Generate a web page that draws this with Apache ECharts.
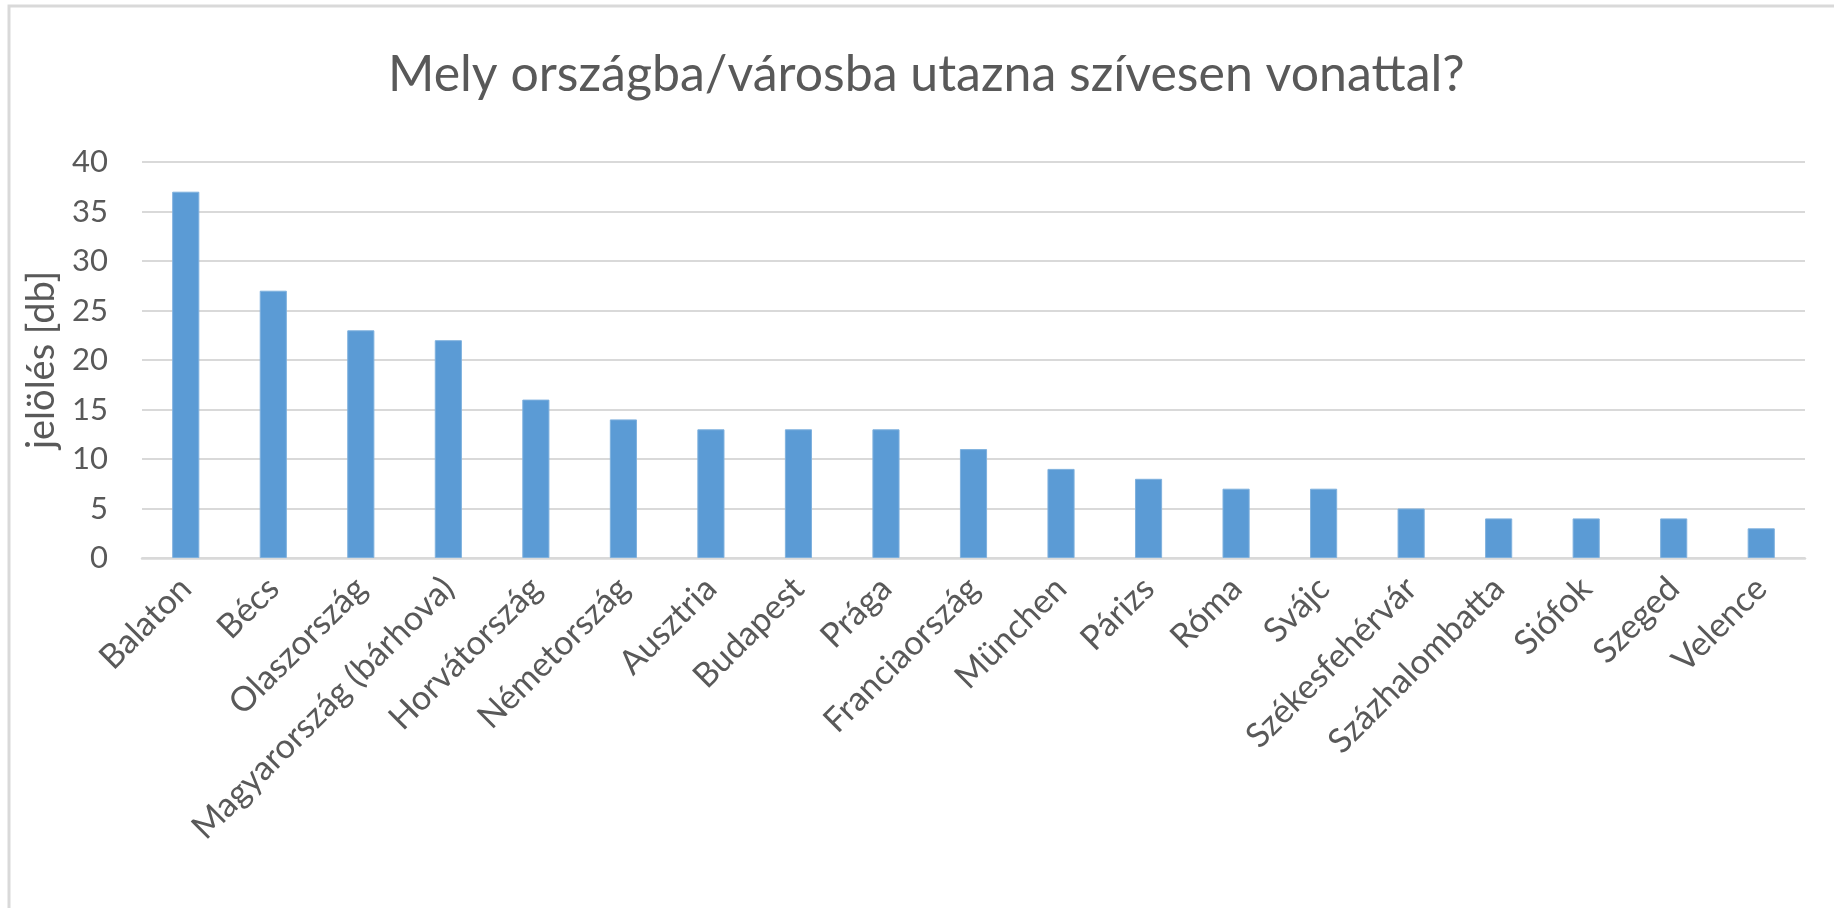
<!DOCTYPE html>
<html lang="hu">
  <head>
    <meta charset="UTF-8" />
    <title>Mely országba/városba utazna szívesen vonattal?</title>
    <style>
      html, body { margin: 0; padding: 0; background: #fff; }
      #main { width: 1834px; height: 908px; }
    </style>
  </head>
  <body>
    <div id="main"></div>

    <script src="https://cdn.jsdelivr.net/npm/echarts@6/dist/echarts.min.js"></script>
    <script>
      // adatok
      const categories = ['Balaton', 'Bécs', 'Olaszország', 'Magyarország (bárhova)', 'Horvátország',
        'Németország', 'Ausztria', 'Budapest', 'Prága', 'Franciaország', 'München', 'Párizs',
        'Róma', 'Svájc', 'Székesfehérvár', 'Százhalombatta', 'Siófok', 'Szeged', 'Velence']
      const votes = [37, 27, 23, 22, 16, 14, 13, 13, 13, 11, 9, 8, 7, 7, 5, 4, 4, 4, 3]
      const yTicks = { min: 0, max: 40, interval: 5 }

      const textColor = '#595959'
      const lineColor = '#d9d9d9'
      const font = 'Lato, "Open Sans", sans-serif'

      let myChart = echarts.init(document.getElementById('main'))
      let option = {
        backgroundColor: '#fff',
        textStyle: { fontFamily: font },
        title: {
          text: 'Mely országba/városba utazna szívesen vonattal?',
          left: 388,
          top: 50,
          padding: 0,
          textStyle: { color: textColor, fontSize: 50, fontWeight: 'normal', fontFamily: font }
        },
        // keret
        graphic: [
          {
            type: 'rect',
            silent: true,
            shape: { x: 9, y: 6, width: 1900, height: 1000 },
            style: { fill: 'none', stroke: lineColor, lineWidth: 3 }
          }
        ],
        grid: { left: 142, right: 29, top: 162, bottom: 350 },
        xAxis: {
          type: 'category',
          data: categories,
          axisLine: { lineStyle: { color: lineColor, width: 2.5 } },
          axisTick: { show: false },
          axisLabel: {
            rotate: 45,
            interval: 0,
            margin: 25,
            color: textColor,
            fontSize: 34,
            fontFamily: font
          }
        },
        yAxis: {
          type: 'value',
          min: yTicks.min,
          max: yTicks.max,
          interval: yTicks.interval,
          name: 'jelölés [db]',
          nameLocation: 'middle',
          nameGap: 81,
          nameTextStyle: { color: textColor, fontSize: 38, fontFamily: font },
          axisLine: { show: false },
          axisTick: { show: false },
          axisLabel: { color: textColor, fontSize: 31, margin: 34, fontFamily: font },
          splitLine: { lineStyle: { color: lineColor, width: 2 } }
        },
        series: [
          {
            name: 'jelölés',
            type: 'bar',
            data: votes,
            barWidth: '31%',
            itemStyle: { color: '#5b9bd5', borderColor: '#7fb1de', borderWidth: 1 }
          }
        ]
      }
      myChart.setOption(option)
    </script>
  </body>
</html>
